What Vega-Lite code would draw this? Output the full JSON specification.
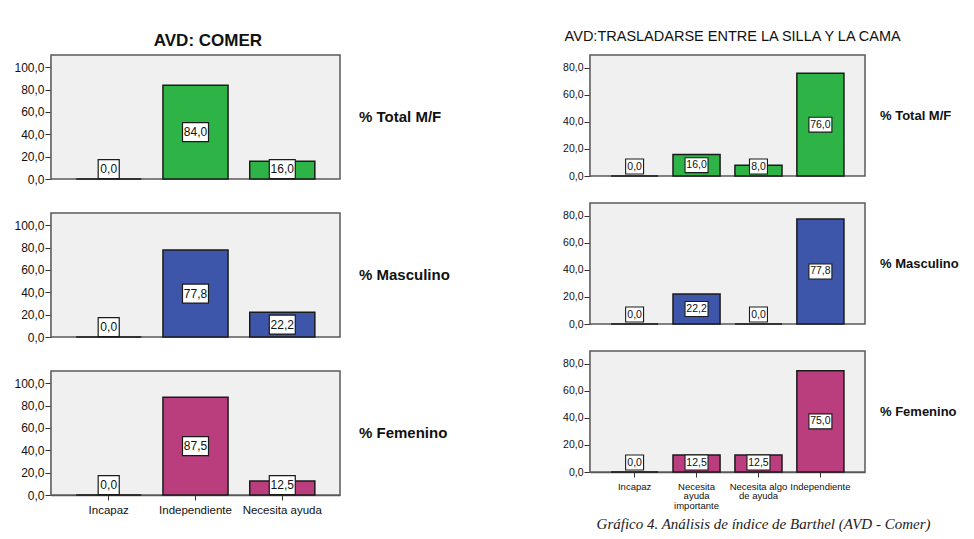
{
  "$schema": "https://vega.github.io/schema/vega-lite/v6.json",
  "background": "white",
  "padding": {"left": 13, "top": 28, "right": 4, "bottom": 4},
  "datasets": {
    "barthel": [
      {"actividad": "Comer", "grupo": "% Total M/F", "categoria": "Incapaz", "pct": 0},
      {"actividad": "Comer", "grupo": "% Total M/F", "categoria": "Independiente", "pct": 84.0},
      {"actividad": "Comer", "grupo": "% Total M/F", "categoria": "Necesita ayuda", "pct": 16.0},
      {"actividad": "Comer", "grupo": "% Masculino", "categoria": "Incapaz", "pct": 0},
      {"actividad": "Comer", "grupo": "% Masculino", "categoria": "Independiente", "pct": 77.8},
      {"actividad": "Comer", "grupo": "% Masculino", "categoria": "Necesita ayuda", "pct": 22.2},
      {"actividad": "Comer", "grupo": "% Femenino", "categoria": "Incapaz", "pct": 0},
      {"actividad": "Comer", "grupo": "% Femenino", "categoria": "Independiente", "pct": 87.5},
      {"actividad": "Comer", "grupo": "% Femenino", "categoria": "Necesita ayuda", "pct": 12.5},
      {"actividad": "Traslado", "grupo": "% Total M/F", "categoria": "Incapaz", "pct": 0},
      {"actividad": "Traslado", "grupo": "% Total M/F", "categoria": "Necesita ayuda importante", "pct": 16.0},
      {"actividad": "Traslado", "grupo": "% Total M/F", "categoria": "Necesita algo de ayuda", "pct": 8.0},
      {"actividad": "Traslado", "grupo": "% Total M/F", "categoria": "Independiente", "pct": 76.0},
      {"actividad": "Traslado", "grupo": "% Masculino", "categoria": "Incapaz", "pct": 0},
      {"actividad": "Traslado", "grupo": "% Masculino", "categoria": "Necesita ayuda importante", "pct": 22.2},
      {"actividad": "Traslado", "grupo": "% Masculino", "categoria": "Necesita algo de ayuda", "pct": 0},
      {"actividad": "Traslado", "grupo": "% Masculino", "categoria": "Independiente", "pct": 77.8},
      {"actividad": "Traslado", "grupo": "% Femenino", "categoria": "Incapaz", "pct": 0},
      {"actividad": "Traslado", "grupo": "% Femenino", "categoria": "Necesita ayuda importante", "pct": 12.5},
      {"actividad": "Traslado", "grupo": "% Femenino", "categoria": "Necesita algo de ayuda", "pct": 12.5},
      {"actividad": "Traslado", "grupo": "% Femenino", "categoria": "Independiente", "pct": 75.0}
    ]
  },
  "hconcat": [
    {
      "data": {"name": "barthel"},
      "transform": [
        {"filter": "datum.actividad === 'Comer'"},
        {"calculate": "max(datum.pct / 2, 8.8)", "as": "pos_etiqueta"}
      ],
      "title": {"text": "AVD: COMER", "anchor": "middle", "fontSize": 17, "fontWeight": "bold", "dx": -24, "offset": 4},
      "bounds": "flush",
      "facet": {
        "row": {
          "field": "grupo", "type": "nominal",
          "sort": ["% Total M/F", "% Masculino", "% Femenino"],
          "title": null,
          "header": {"labelOrient": "right", "labelAngle": 0, "labelAlign": "right", "labelBaseline": "middle",
                     "labelFontSize": 15, "labelFontWeight": "bold", "labelPadding": 19, "labelColor": "#111"}
        }
      },
      "spacing": {"row": 34},
      "spec": {
        "width": 289,
        "height": 124,
        "encoding": {
          "x": {
            "field": "categoria", "type": "nominal",
            "sort": ["Incapaz", "Independiente", "Necesita ayuda"],
            "scale": {"paddingInner": 0.25, "paddingOuter": 0.29},
            "axis": {"title": null, "labelAngle": 0, "labelFontSize": 11.5, "labelColor": "#111", "tickSize": 5,
                     "tickColor": "#333", "domainColor": "#555", "domainWidth": 1.5, "labelPadding": 4, "labelBaseline": "top"}
          }
        },
        "layer": [
          {
            "mark": {"type": "bar", "stroke": "#1b1b1b", "strokeWidth": 1.5},
            "encoding": {
              "y": {"field": "pct", "type": "quantitative", "scale": {"domain": [0, 111], "nice": false},
                    "axis": {"title": null, "values": [0, 20, 40, 60, 80, 100], "format": ".1f", "labelFontSize": 12,
                             "labelOverlap": false, "labelFlush": false,
                             "tickSize": 6, "labelPadding": 1, "grid": false, "domainColor": "#555", "domainWidth": 1.5,
                             "tickColor": "#333", "labelColor": "#111"}},
              "color": {"field": "grupo", "type": "nominal",
                        "scale": {"domain": ["% Total M/F", "% Masculino", "% Femenino"], "range": ["#2eb446", "#3e56aa", "#ba3e7d"]},
                        "legend": null}
            }
          },
          {
            "mark": {"type": "point", "filled": true, "fill": "white", "stroke": "#1b1b1b", "strokeWidth": 1.2, "opacity": 1, "size": 676},
            "encoding": {
              "y": {"field": "pos_etiqueta", "type": "quantitative", "scale": {"domain": [0, 111], "nice": false},
                    "axis": {"title": null, "values": [0, 20, 40, 60, 80, 100], "format": ".1f", "labelFontSize": 12,
                             "labelOverlap": false, "labelFlush": false,
                             "tickSize": 6, "labelPadding": 1, "grid": false, "domainColor": "#555", "domainWidth": 1.5,
                             "tickColor": "#333", "labelColor": "#111"}},
              "shape": {"condition": {"test": "datum.pct < 10", "value": "M-0.81,-0.73H0.81V0.73H-0.81Z"}, "value": "M-1,-0.73H1V0.73H-1Z"}
            }
          },
          {
            "mark": {"type": "text", "fontSize": 12, "color": "#111"},
            "encoding": {
              "y": {"field": "pos_etiqueta", "type": "quantitative", "scale": {"domain": [0, 111], "nice": false},
                    "axis": {"title": null, "values": [0, 20, 40, 60, 80, 100], "format": ".1f", "labelFontSize": 12,
                             "labelOverlap": false, "labelFlush": false,
                             "tickSize": 6, "labelPadding": 1, "grid": false, "domainColor": "#555", "domainWidth": 1.5,
                             "tickColor": "#333", "labelColor": "#111"}},
              "text": {"field": "pct", "type": "quantitative", "format": ".1f"}
            }
          }
        ]
      }
    },
    {
      "data": {"name": "barthel"},
      "transform": [
        {"filter": "datum.actividad === 'Traslado'"},
        {"calculate": "max(datum.pct / 2, 7)", "as": "pos_etiqueta"}
      ],
      "title": {"text": "AVD:TRASLADARSE ENTRE LA SILLA Y LA CAMA", "anchor": "middle", "fontSize": 14.5, "fontWeight": "normal", "dx": -28, "offset": 10},
      "bounds": "flush",
      "facet": {
        "row": {
          "field": "grupo", "type": "nominal",
          "sort": ["% Total M/F", "% Masculino", "% Femenino"],
          "title": null,
          "header": {"labelOrient": "right", "labelAngle": 0, "labelAlign": "right", "labelBaseline": "middle",
                     "labelFontSize": 13, "labelFontWeight": "bold", "labelPadding": 15, "labelColor": "#111"}
        }
      },
      "spacing": {"row": 27},
      "spec": {
        "width": 275,
        "height": 121,
        "encoding": {
          "x": {
            "field": "categoria", "type": "nominal",
            "sort": ["Incapaz", "Necesita ayuda importante", "Necesita algo de ayuda", "Independiente"],
            "scale": {"paddingInner": 0.24, "paddingOuter": 0.34},
            "axis": {
              "title": "Gráfico 4. Análisis de índice de Barthel (AVD - Comer)",
              "titleFont": "Liberation Serif", "titleFontStyle": "italic", "titleFontWeight": "normal",
              "titleFontSize": 15, "titleColor": "#222", "titleX": 173, "titleY": 56,
              "titleBaseline": "alphabetic", "titleAlign": "center",
              "labelExpr": "datum.label == 'Necesita ayuda importante' ? ['Necesita', 'ayuda', 'importante'] : datum.label == 'Necesita algo de ayuda' ? ['Necesita algo', 'de ayuda'] : datum.label",
              "labelAngle": 0, "labelFontSize": 9.5, "labelLineHeight": 9.5, "labelColor": "#111", "tickSize": 5,
              "labelOverlap": false,
              "tickColor": "#333", "domainColor": "#555", "domainWidth": 1.5, "labelPadding": 4, "labelBaseline": "top"
            }
          }
        },
        "layer": [
          {
            "mark": {"type": "bar", "stroke": "#1b1b1b", "strokeWidth": 1.5},
            "encoding": {
              "y": {"field": "pct", "type": "quantitative", "scale": {"domain": [0, 89.6], "nice": false},
                    "axis": {"title": null, "values": [0, 20, 40, 60, 80], "format": ".1f", "labelFontSize": 10.5,
                             "labelOverlap": false, "labelFlush": false,
                             "tickSize": 6, "labelPadding": 1, "grid": false, "domainColor": "#555", "domainWidth": 1.5,
                             "tickColor": "#333", "labelColor": "#111"}},
              "color": {"field": "grupo", "type": "nominal",
                        "scale": {"domain": ["% Total M/F", "% Masculino", "% Femenino"], "range": ["#2eb446", "#3e56aa", "#ba3e7d"]},
                        "legend": null}
            }
          },
          {
            "mark": {"type": "point", "filled": true, "fill": "white", "stroke": "#1b1b1b", "strokeWidth": 1.1, "opacity": 1, "size": 529},
            "encoding": {
              "y": {"field": "pos_etiqueta", "type": "quantitative", "scale": {"domain": [0, 89.6], "nice": false},
                    "axis": {"title": null, "values": [0, 20, 40, 60, 80], "format": ".1f", "labelFontSize": 10.5,
                             "labelOverlap": false, "labelFlush": false,
                             "tickSize": 6, "labelPadding": 1, "grid": false, "domainColor": "#555", "domainWidth": 1.5,
                             "tickColor": "#333", "labelColor": "#111"}},
              "shape": {"condition": {"test": "datum.pct < 10", "value": "M-0.78,-0.65H0.78V0.65H-0.78Z"}, "value": "M-1,-0.65H1V0.65H-1Z"}
            }
          },
          {
            "mark": {"type": "text", "fontSize": 10.5, "color": "#111"},
            "encoding": {
              "y": {"field": "pos_etiqueta", "type": "quantitative", "scale": {"domain": [0, 89.6], "nice": false},
                    "axis": {"title": null, "values": [0, 20, 40, 60, 80], "format": ".1f", "labelFontSize": 10.5,
                             "labelOverlap": false, "labelFlush": false,
                             "tickSize": 6, "labelPadding": 1, "grid": false, "domainColor": "#555", "domainWidth": 1.5,
                             "tickColor": "#333", "labelColor": "#111"}},
              "text": {"field": "pct", "type": "quantitative", "format": ".1f"}
            }
          }
        ]
      }
    }
  ],
  "spacing": 112,
  "resolve": {"scale": {"x": "independent", "y": "independent"}},
  "config": {
    "font": "Liberation Sans",
    "locale": {"number": {"decimal": ",", "thousands": ".", "grouping": [3], "currency": ["", " €"]}},
    "view": {"fill": "#f0f0f0", "stroke": "#5a5a5a", "strokeWidth": 1.5},
    "title": {"color": "#111"}
  }
}
